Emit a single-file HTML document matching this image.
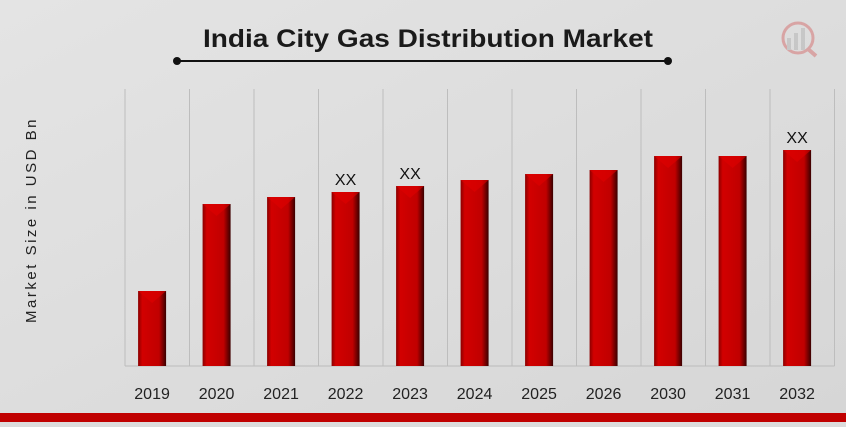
<!DOCTYPE html>
<html><head><meta charset="utf-8"><style>
body{margin:0;width:846px;height:422px;overflow:hidden;background:#dcdcdc;font-family:"Liberation Sans",sans-serif}
</style></head><body>
<svg id="c" width="846" height="422" viewBox="0 0 846 422">
<defs>
<linearGradient id="bg" x1="0" y1="0" x2="1" y2="1"><stop offset="0" stop-color="#e4e4e4"/><stop offset="1" stop-color="#d6d6d6"/></linearGradient>
<linearGradient id="bar" x1="0" y1="0" x2="1" y2="0"><stop offset="0" stop-color="#8a0000"/><stop offset="0.15" stop-color="#d20000"/><stop offset="0.75" stop-color="#c00000"/><stop offset="1" stop-color="#3a0000"/></linearGradient>
</defs>
<rect width="846" height="422" fill="url(#bg)"/>
<rect x="0" y="413" width="846" height="9" fill="#c00000"/>
<text x="428" y="47" text-anchor="middle" font-size="25" font-weight="bold" fill="#1a1a1a" textLength="450" lengthAdjust="spacingAndGlyphs">India City Gas Distribution Market</text>
<line x1="177" y1="61" x2="668" y2="61" stroke="#111" stroke-width="2"/>
<circle cx="177" cy="61" r="4" fill="#111"/>
<circle cx="668" cy="61" r="4" fill="#111"/>
<g opacity="0.25"><circle cx="798" cy="38" r="15" fill="none" stroke="#c00" stroke-width="3"/><line x1="808" y1="49" x2="816" y2="56" stroke="#c00" stroke-width="4"/><rect x="787" y="38" width="4" height="12" fill="#888"/><rect x="794" y="33" width="4" height="17" fill="#888"/><rect x="801" y="28" width="4" height="22" fill="#888"/></g>
<text transform="translate(36,220) rotate(-90)" text-anchor="middle" font-size="15" letter-spacing="2.5" fill="#222">Market Size in USD Bn</text>
<g id="grid"></g><g id="bars"></g><g id="labels"></g>
</svg>
<script>
const categories=["2019","2020","2021","2022","2023","2024","2025","2026","2030","2031","2032"];
const values=[75,162,169,174,180,186,192,196,210,210,216];
const valueLabels=["","","","XX","XX","","","","","","XX"];
const ns="http://www.w3.org/2000/svg";
const x0=125,step=64.5,base=366,scale=1;
const xc=i=>x0+step*(i+0.42);
const y=v=>base-v*scale;
function mk(t,a,p){const e=document.createElementNS(ns,t);for(const k in a)e.setAttribute(k,a[k]);p.appendChild(e);return e;}
const grid=document.getElementById('grid'),bars=document.getElementById('bars'),labels=document.getElementById('labels');
for(let i=0;i<=categories.length;i++){
 const l=mk('line',{x1:x0+step*i,x2:x0+step*i,y1:89,y2:base,stroke:'#bdbdbd','stroke-width':1},grid);
 
 
}
const ax=mk('line',{x1:x0,x2:x0+step*categories.length,y1:base,y2:base,stroke:'#bbb'},grid);


categories.forEach((c,i)=>{
 const w=28,cx=xc(i),top=y(values[i]);
 const b=mk('rect',{x:cx-w/2,y:top,width:w,height:base-top,fill:'url(#bar)'},bars);
 
 
 const h=mk('polygon',{points:`${cx-w/2},${top} ${cx+w/2},${top} ${cx},${top+12}`,fill:'#e00000',opacity:0.6},bars);
 
 
 const t=mk('text',{x:cx,y:399,'text-anchor':'middle','font-size':16,fill:'#222'},labels);
 t.textContent=c;
 
 
 if(valueLabels[i]){
  const v=mk('text',{x:cx,y:top-7,'text-anchor':'middle','font-size':16,fill:'#111'},labels);
  v.textContent=valueLabels[i];
  
  
 }
});
</script>
</body></html>
